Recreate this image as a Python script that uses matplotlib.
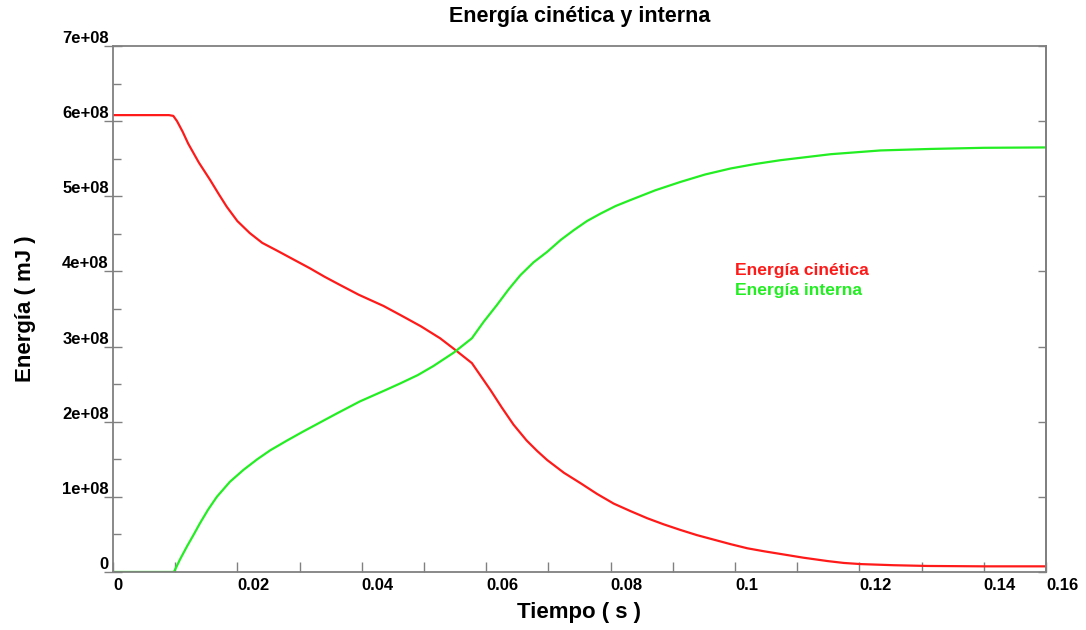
import matplotlib
matplotlib.use("Agg")
import matplotlib.pyplot as plt
from matplotlib.ticker import MultipleLocator

plt.rcParams['font.family'] = ['Liberation Sans', 'DejaVu Sans']
plt.rcParams['font.weight'] = 'bold'

# Datos (tiempo en s, energia en 1e8 mJ)
t_cinetica = [0, 0.0090, 0.0097, 0.0103, 0.0112, 0.0121, 0.0138, 0.0156, 0.0170,
              0.0183, 0.0200, 0.0220, 0.0240, 0.0263, 0.0290, 0.0317, 0.0340,
              0.0365, 0.0395, 0.0435, 0.0462, 0.0495, 0.0526, 0.0548, 0.0577,
              0.0592, 0.0607, 0.0625, 0.0644, 0.0665, 0.0682, 0.0698, 0.0725,
              0.0752, 0.0778, 0.0805, 0.0832, 0.0859, 0.0885, 0.0912, 0.0939,
              0.0966, 0.0993, 0.1020, 0.1047, 0.1073, 0.1110, 0.1149, 0.1175,
              0.1202, 0.1255, 0.1310, 0.1400, 0.1500]
e_cinetica = [6.08, 6.08, 6.07, 6.00, 5.86, 5.70, 5.45, 5.22, 5.03,
              4.86, 4.67, 4.51, 4.38, 4.28, 4.16, 4.04, 3.93,
              3.82, 3.69, 3.54, 3.42, 3.27, 3.11, 2.97, 2.78,
              2.60, 2.42, 2.19, 1.96, 1.75, 1.61, 1.49, 1.32,
              1.18, 1.04, 0.91, 0.81, 0.715, 0.635, 0.56, 0.49,
              0.43, 0.37, 0.315, 0.275, 0.24, 0.19, 0.145, 0.12,
              0.105, 0.09, 0.08, 0.075, 0.075]

t_interna = [0, 0.0098, 0.0108, 0.0119, 0.0130, 0.0140, 0.0153, 0.0167, 0.0188,
             0.0210, 0.0232, 0.0253, 0.0280, 0.0306, 0.0333, 0.0360, 0.0397,
             0.0438, 0.0462, 0.0490, 0.0515, 0.0548, 0.0577, 0.0596, 0.0617,
             0.0636, 0.0655, 0.0676, 0.0698, 0.0720, 0.0741, 0.0762, 0.0784,
             0.0808, 0.0832, 0.0872, 0.0912, 0.0952, 0.0993, 0.1033, 0.1073,
             0.1154, 0.1234, 0.1315, 0.1400, 0.1500]
e_interna = [0, 0, 0.17, 0.34, 0.50, 0.65, 0.83, 1.00, 1.20,
             1.36, 1.50, 1.62, 1.75, 1.87, 1.99, 2.11, 2.27,
             2.42, 2.51, 2.62, 2.74, 2.92, 3.11, 3.33, 3.55,
             3.76, 3.95, 4.12, 4.26, 4.42, 4.55, 4.67, 4.77,
             4.87, 4.95, 5.08, 5.19, 5.29, 5.37, 5.43, 5.48,
             5.56, 5.61, 5.63, 5.645, 5.65]

x_ticks = [0, 0.02, 0.04, 0.06, 0.08, 0.10, 0.12, 0.14, 0.15]
x_labels = ['0', '0.02', '0.04', '0.06', '0.08', '0.1', '0.12', '0.14', '0.16']
y_ticks = [0, 1e8, 2e8, 3e8, 4e8, 5e8, 6e8, 7e8]
y_labels = ['0', '1e+08', '2e+08', '3e+08', '4e+08', '5e+08', '6e+08', '7e+08']

rojo = '#ff1a1a'
verde = '#22ee22'
gris = '#808080'

fig = plt.figure(figsize=(10.86, 6.30), dpi=100)
ax = fig.add_axes([0.104, 0.0921, 0.8592, 0.8349])

ax.plot(t_cinetica, [e * 1e8 for e in e_cinetica], color=rojo, lw=1.6)
ax.plot(t_interna, [e * 1e8 for e in e_interna], color=verde, lw=1.6)

ax.set_xlim(0, 0.15)
ax.set_ylim(0, 7e8)

# Ejes
for s in ax.spines.values():
    s.set_color(gris)
    s.set_linewidth(1.3)

ax.set_xticks(x_ticks)
ax.set_xticklabels(x_labels, ha='left')
ax.set_yticks(y_ticks)
ax.set_yticklabels(y_labels, va='bottom')
ax.xaxis.set_minor_locator(MultipleLocator(0.01))
ax.yaxis.set_minor_locator(MultipleLocator(0.5e8))

ax.tick_params(axis='x', which='major', direction='in', length=7.5, width=1,
               color=gris, labelsize=12, pad=4, top=False)
ax.tick_params(axis='x', which='minor', direction='in', length=7, width=1,
               color=gris, top=False)
ax.tick_params(axis='y', which='major', direction='inout', length=13, width=1,
               color=gris, labelsize=12, pad=-3.5, right=False)
ax.tick_params(axis='y', which='minor', direction='in', length=6, width=1,
               color=gris, right=False)

# Marcas a la derecha, solo hacia dentro
der = ax.secondary_yaxis('right')
der.set_yticks(y_ticks)
der.tick_params(direction='in', length=6, width=1, color=gris, labelright=False)
der.spines['right'].set_color(gris)
der.spines['right'].set_linewidth(1.3)

ax.set_title('Energía cinética y interna', fontsize=15.5, fontweight='bold', pad=17)
ax.set_xlabel('Tiempo ( s )', fontsize=16, fontweight='bold', labelpad=7)
ax.set_ylabel('Energía ( mJ )', fontsize=16, fontweight='bold', labelpad=19)

# Leyenda como texto
ax.text(0.667, 0.574, 'Energía cinética', color=rojo, fontsize=12.6,
        fontweight='bold', transform=ax.transAxes, va='center')
ax.text(0.667, 0.536, 'Energía interna', color=verde, fontsize=12.6,
        fontweight='bold', transform=ax.transAxes, va='center')

fig.savefig('out.png', dpi=100)
plt.close(fig)
